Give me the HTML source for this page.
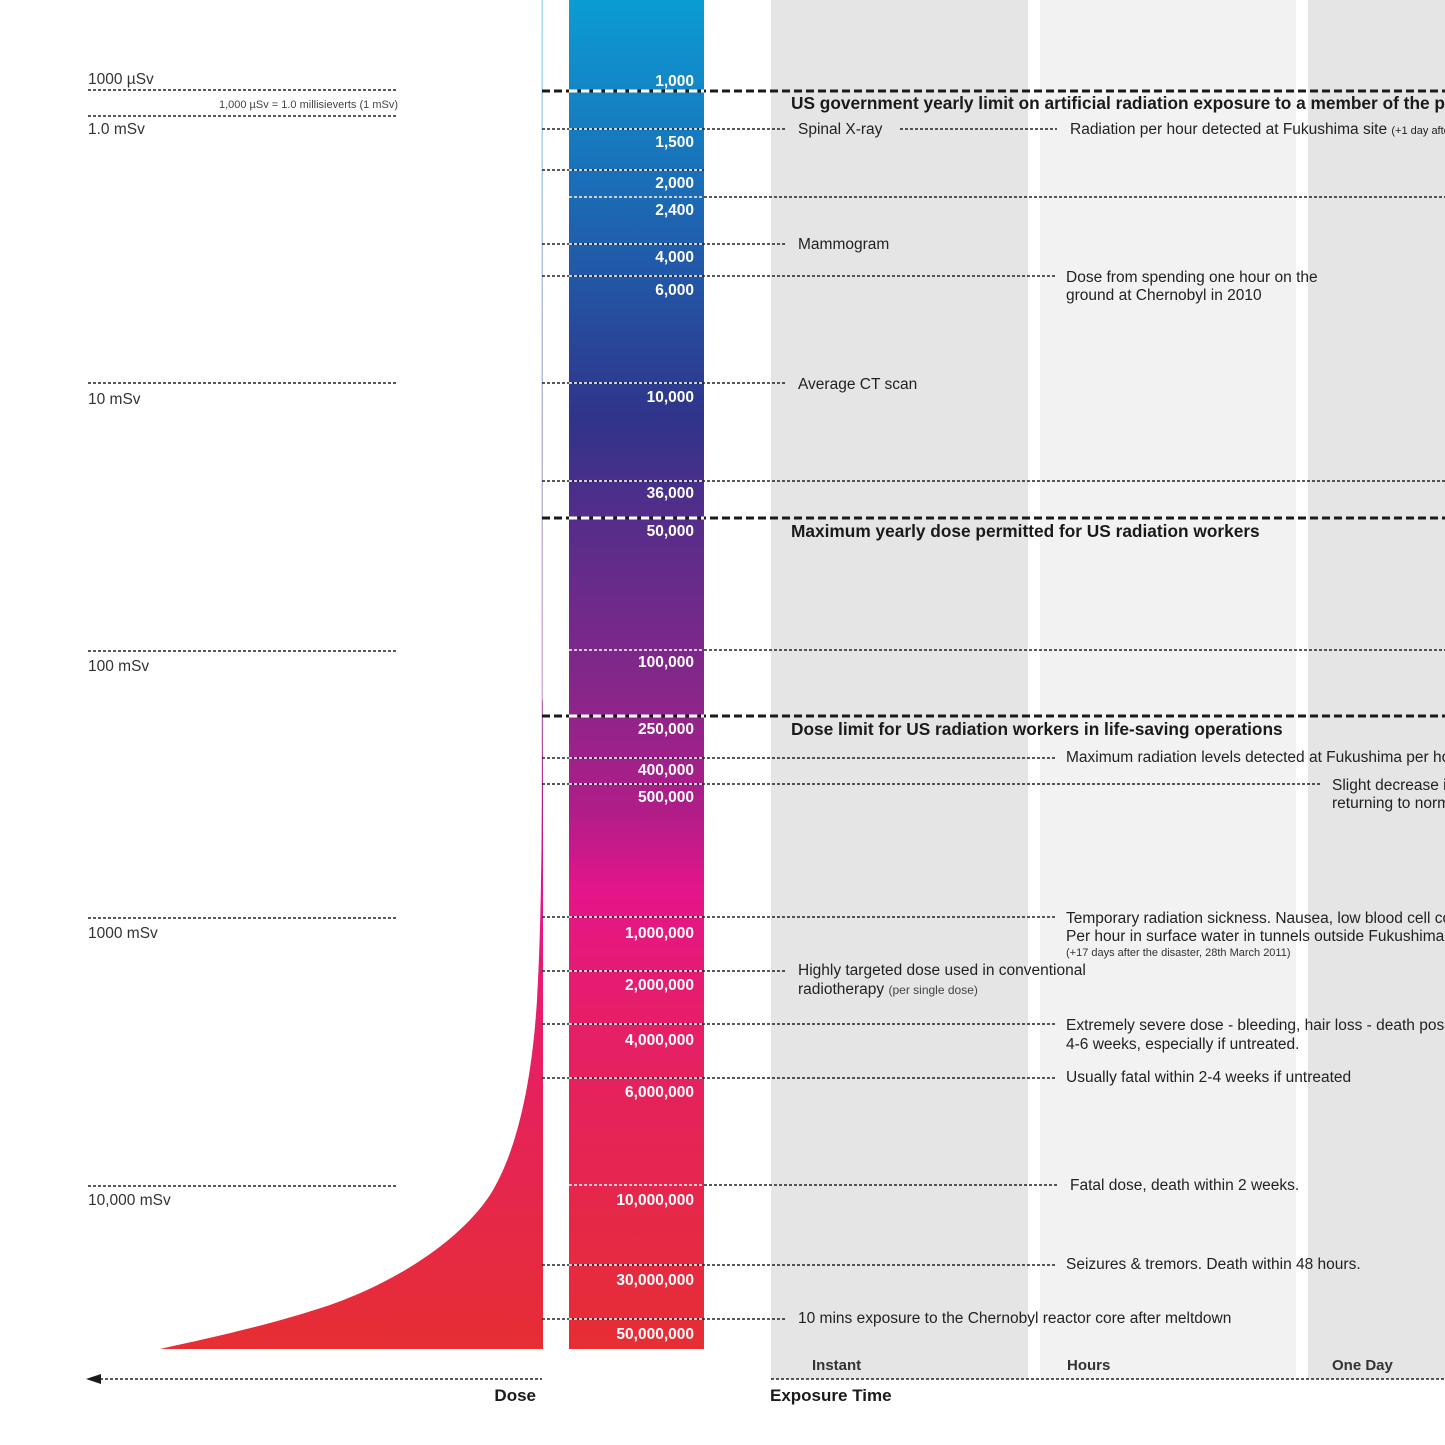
<!DOCTYPE html>
<html><head><meta charset="utf-8"><style>
html,body{margin:0;padding:0;background:#fff;}
svg{display:block;font-family:"Liberation Sans",sans-serif;}
.w{fill:#fff;font-weight:bold;font-size:15.5px;text-anchor:end;}
.a{fill:#222;font-size:15.5px;}
.l{fill:#333;font-size:15.5px;}
.h{fill:#1a1a1a;font-size:17.3px;font-weight:bold;}
.d{stroke:#222;stroke-width:1.5;stroke-dasharray:3,2;fill:none;}
.dw{stroke:#fff;stroke-width:1.5;stroke-dasharray:3,2;fill:none;}
.H{stroke:#1a1a1a;stroke-width:3;stroke-dasharray:8,4;fill:none;}
.Hw{stroke:#fff;stroke-width:3;stroke-dasharray:8,4;fill:none;}
</style></head><body>
<svg width="1445" height="1445" viewBox="0 0 1445 1445" xmlns="http://www.w3.org/2000/svg">
<defs>
<linearGradient id="g" x1="0" y1="0" x2="0" y2="1349" gradientUnits="userSpaceOnUse">
<stop offset="0" stop-color="#0b9cd4"/>
<stop offset="0.07" stop-color="#1385c5"/>
<stop offset="0.2" stop-color="#2258a8"/>
<stop offset="0.31" stop-color="#30348a"/>
<stop offset="0.39" stop-color="#572d8a"/>
<stop offset="0.5" stop-color="#83278a"/>
<stop offset="0.6" stop-color="#b01d88"/>
<stop offset="0.66" stop-color="#e4158a"/>
<stop offset="0.75" stop-color="#e61e6a"/>
<stop offset="1" stop-color="#e62e33"/>
</linearGradient>
</defs>
<rect x="771" y="0" width="257" height="1379" fill="#e5e5e5"/>
<rect x="1040" y="0" width="256" height="1379" fill="#f2f2f2"/>
<rect x="1308" y="0" width="137" height="1379" fill="#e5e5e5"/>
<rect x="569" y="0" width="135" height="1349" fill="url(#g)"/>
<rect x="541.5" y="0" width="1.5" height="1349" fill="url(#g)" opacity="0.35"/>
<path d="M542.5,700 C542,850 541,930 537,1000 C532,1080 518,1150 490,1195 C460,1240 400,1280 330,1305 C270,1325 210,1338 160,1349 L543,1349 L543,700 Z" fill="url(#g)"/>

<text class="l" x="88" y="84">1000 µSv</text>
<line class="d" x1="88" y1="90" x2="398" y2="90"/>
<text x="398" y="108" fill="#444" font-size="11" text-anchor="end">1,000 µSv = 1.0 millisieverts (1 mSv)</text>
<line class="d" x1="88" y1="116" x2="398" y2="116"/>
<text class="l" x="88" y="134">1.0 mSv</text>
<line class="d" x1="88" y1="383" x2="398" y2="383"/>
<text class="l" x="88" y="404">10 mSv</text>
<line class="d" x1="88" y1="651" x2="398" y2="651"/>
<text class="l" x="88" y="671">100 mSv</text>
<line class="d" x1="88" y1="918" x2="398" y2="918"/>
<text class="l" x="88" y="938">1000 mSv</text>
<line class="d" x1="88" y1="1186" x2="398" y2="1186"/>
<text class="l" x="88" y="1205">10,000 mSv</text>

<line class="H" x1="542" y1="91" x2="1445" y2="91"/><line class="Hw" x1="569" y1="91" x2="704" y2="91"/>
<line class="d" x1="542" y1="129" x2="787" y2="129"/><line class="d" x1="900" y1="129" x2="1057" y2="129"/><line class="dw" x1="569" y1="129" x2="704" y2="129"/>
<line class="d" x1="542" y1="170" x2="704" y2="170"/><line class="dw" x1="569" y1="170" x2="704" y2="170"/>
<line class="d" x1="569" y1="197" x2="1445" y2="197"/><line class="dw" x1="569" y1="197" x2="704" y2="197"/>
<line class="d" x1="542" y1="244" x2="787" y2="244"/><line class="dw" x1="569" y1="244" x2="704" y2="244"/>
<line class="d" x1="542" y1="276" x2="1057" y2="276"/><line class="dw" x1="569" y1="276" x2="704" y2="276"/>
<line class="d" x1="542" y1="383" x2="787" y2="383"/><line class="dw" x1="569" y1="383" x2="704" y2="383"/>
<line class="d" x1="542" y1="481" x2="1445" y2="481"/><line class="dw" x1="569" y1="481" x2="704" y2="481"/>
<line class="H" x1="542" y1="518" x2="1445" y2="518"/><line class="Hw" x1="569" y1="518" x2="704" y2="518"/>
<line class="d" x1="569" y1="650" x2="1445" y2="650"/><line class="dw" x1="569" y1="650" x2="704" y2="650"/>
<line class="H" x1="542" y1="716" x2="1445" y2="716"/><line class="Hw" x1="569" y1="716" x2="704" y2="716"/>
<line class="d" x1="542" y1="758" x2="1057" y2="758"/><line class="dw" x1="569" y1="758" x2="704" y2="758"/>
<line class="d" x1="542" y1="784" x2="1322" y2="784"/><line class="dw" x1="569" y1="784" x2="704" y2="784"/>
<line class="d" x1="542" y1="917" x2="1057" y2="917"/><line class="dw" x1="569" y1="917" x2="704" y2="917"/>
<line class="d" x1="542" y1="971" x2="787" y2="971"/><line class="dw" x1="569" y1="971" x2="704" y2="971"/>
<line class="d" x1="542" y1="1024" x2="1057" y2="1024"/><line class="dw" x1="569" y1="1024" x2="704" y2="1024"/>
<line class="d" x1="542" y1="1078" x2="1057" y2="1078"/><line class="dw" x1="569" y1="1078" x2="704" y2="1078"/>
<line class="d" x1="569" y1="1185" x2="1057" y2="1185"/><line class="dw" x1="569" y1="1185" x2="704" y2="1185"/>
<line class="d" x1="542" y1="1265" x2="1057" y2="1265"/><line class="dw" x1="569" y1="1265" x2="704" y2="1265"/>
<line class="d" x1="542" y1="1319" x2="787" y2="1319"/><line class="dw" x1="569" y1="1319" x2="704" y2="1319"/>

<text class="w" x="694" y="86">1,000</text>
<text class="w" x="694" y="147">1,500</text>
<text class="w" x="694" y="188">2,000</text>
<text class="w" x="694" y="215">2,400</text>
<text class="w" x="694" y="262">4,000</text>
<text class="w" x="694" y="295">6,000</text>
<text class="w" x="694" y="402">10,000</text>
<text class="w" x="694" y="498">36,000</text>
<text class="w" x="694" y="536">50,000</text>
<text class="w" x="694" y="667">100,000</text>
<text class="w" x="694" y="734">250,000</text>
<text class="w" x="694" y="775">400,000</text>
<text class="w" x="694" y="802">500,000</text>
<text class="w" x="694" y="938" font-size="17.5">1,000,000</text>
<text class="w" x="694" y="990" font-size="17.5">2,000,000</text>
<text class="w" x="694" y="1045" font-size="17.5">4,000,000</text>
<text class="w" x="694" y="1097" font-size="17.5">6,000,000</text>
<text class="w" x="694" y="1205" font-size="17.5">10,000,000</text>
<text class="w" x="694" y="1285" font-size="17.5">30,000,000</text>
<text class="w" x="694" y="1339" font-size="17.5">50,000,000</text>

<text class="h" x="791" y="109">US government yearly limit on artificial radiation exposure to a member of the public</text>
<text class="a" x="798" y="134">Spinal X-ray</text>
<text class="a" x="1070" y="134">Radiation per hour detected at Fukushima site <tspan font-size="11">(+1 day after)</tspan></text>
<text class="a" x="798" y="249">Mammogram</text>
<text class="a" x="1066" y="282">Dose from spending one hour on the</text>
<text class="a" x="1066" y="300">ground at Chernobyl in 2010</text>
<text class="a" x="798" y="389">Average CT scan</text>
<text class="h" x="791" y="537">Maximum yearly dose permitted for US radiation workers</text>
<text class="h" x="791" y="735">Dose limit for US radiation workers in life-saving operations</text>
<text class="a" x="1066" y="762">Maximum radiation levels detected at Fukushima per hour</text>
<text class="a" x="1332" y="790">Slight decrease in</text>
<text class="a" x="1332" y="808">returning to normal</text>
<text class="a" x="1066" y="923">Temporary radiation sickness. Nausea, low blood cell count</text>
<text class="a" x="1066" y="941">Per hour in surface water in tunnels outside Fukushima</text>
<text x="1066" y="956" fill="#333" font-size="11">(+17 days after the disaster, 28th March 2011)</text>
<text class="a" x="798" y="975">Highly targeted dose used in conventional</text>
<text class="a" x="798" y="994">radiotherapy <tspan font-size="12" fill="#444">(per single dose)</tspan></text>
<text class="a" x="1066" y="1030">Extremely severe dose - bleeding, hair loss - death possible</text>
<text class="a" x="1066" y="1049">4-6 weeks, especially if untreated.</text>
<text class="a" x="1066" y="1082">Usually fatal within 2-4 weeks if untreated</text>
<text class="a" x="1070" y="1190">Fatal dose, death within 2 weeks.</text>
<text class="a" x="1066" y="1269">Seizures &amp; tremors. Death within 48 hours.</text>
<text class="a" x="798" y="1323">10 mins exposure to the Chernobyl reactor core after meltdown</text>

<text x="812" y="1370" font-size="15" font-weight="bold" fill="#333">Instant</text>
<text x="1067" y="1370" font-size="15" font-weight="bold" fill="#333">Hours</text>
<text x="1332" y="1370" font-size="15" font-weight="bold" fill="#333">One Day</text>
<line class="d" x1="100" y1="1379" x2="542" y2="1379"/>
<polygon points="86,1379 101,1374 101,1384" fill="#1a1a1a"/>
<line class="d" x1="771" y1="1379" x2="1445" y2="1379"/>
<text x="536" y="1401" font-size="17" font-weight="bold" fill="#1a1a1a" text-anchor="end">Dose</text>
<text x="770" y="1401" font-size="17" font-weight="bold" fill="#1a1a1a">Exposure Time</text>
</svg>
</body></html>
